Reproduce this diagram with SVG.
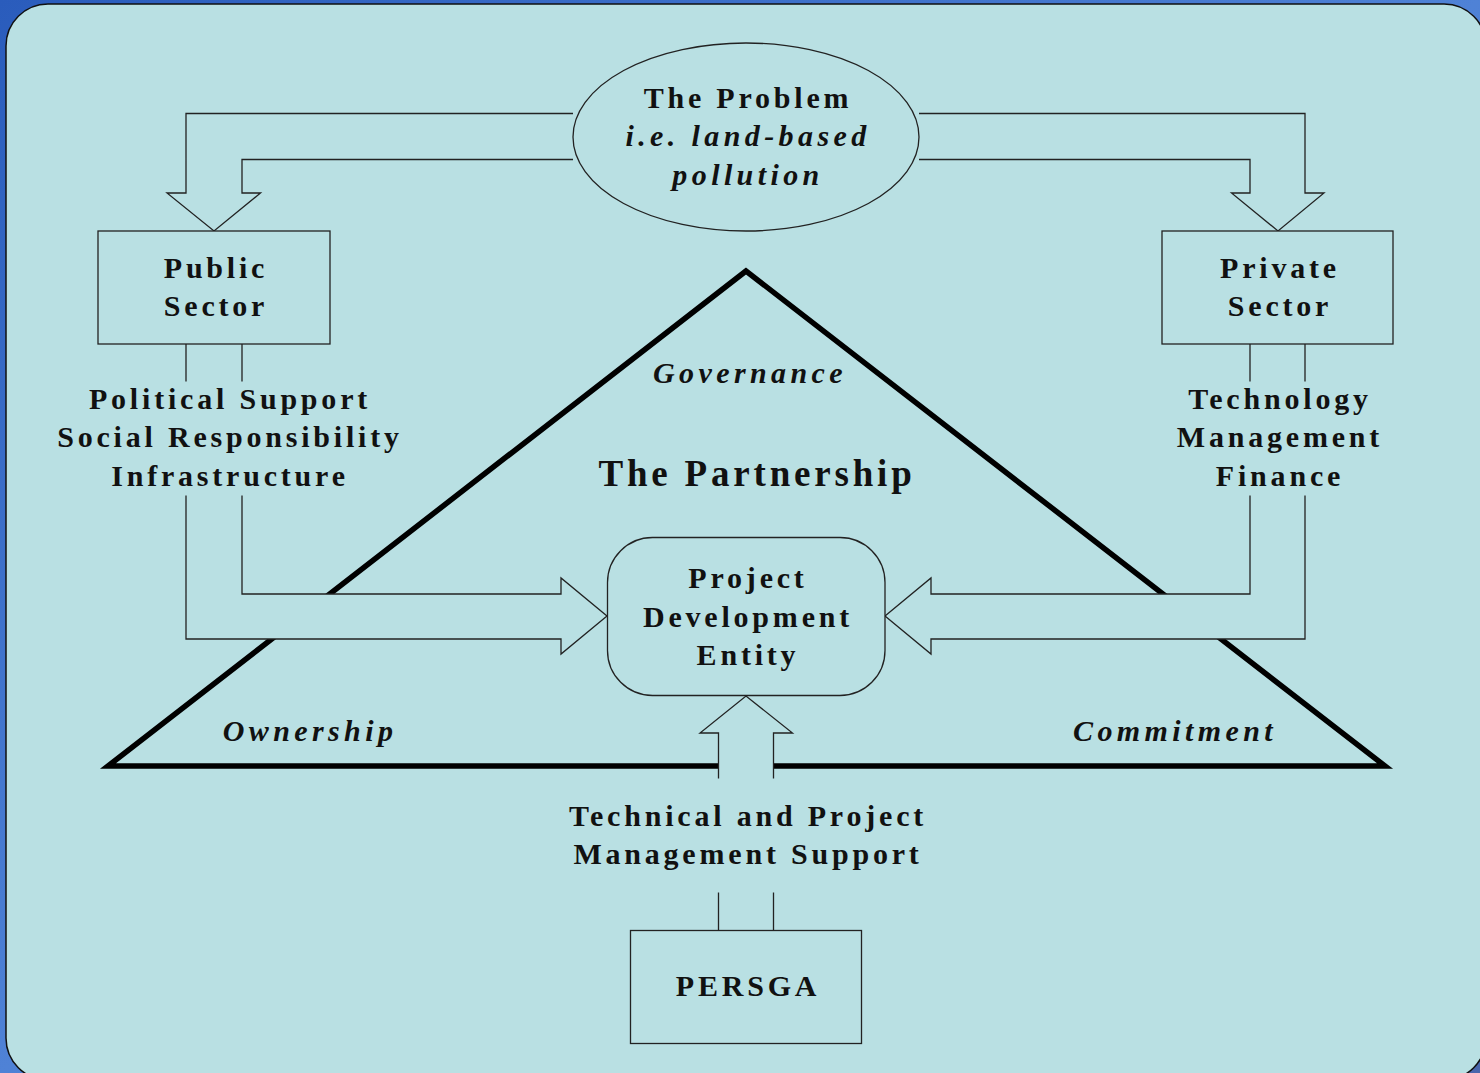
<svg xmlns="http://www.w3.org/2000/svg" width="1480" height="1073" viewBox="0 0 1480 1073">
  <defs>
    <linearGradient id="frameBlue" x1="0" y1="0" x2="1" y2="1">
      <stop offset="0" stop-color="#2a5cbc"/>
      <stop offset="0.5" stop-color="#4f82d6"/>
      <stop offset="1" stop-color="#4a66ac"/>
    </linearGradient>
    <style>
      .panel { fill: #b9e0e3; stroke: #111; stroke-width: 1.5; }
      .shape { fill: #b9e0e3; stroke: #222; stroke-width: 1.3; }
      .arrow { fill: #b9e0e3; stroke: #222; stroke-width: 1.3; stroke-linejoin: miter; }
      .backer { fill: #b9e0e3; stroke: none; }
      .tri { fill: none; stroke: #000; stroke-width: 5.5; stroke-linejoin: miter; stroke-miterlimit: 10; }
      text { font-family: "Liberation Serif", "Times New Roman", serif; font-weight: bold; fill: #111; text-anchor: middle; letter-spacing: 3.8px; }
      .lbl { font-size: 30px; }
      .ital { font-style: italic; letter-spacing: 4.4px; }
      .big { font-size: 37px; letter-spacing: 3.8px; }
    </style>
  </defs>

  <!-- frame and panel -->
  <rect x="0" y="0" width="1480" height="1073" fill="url(#frameBlue)"/>
  <rect class="panel" x="6" y="4" width="1480" height="1076" rx="42" ry="42"/>

  <!-- partnership triangle -->
  <g id="partnership">
    <polygon class="tri" points="746,271 108,766 1385,766"/>
    <text class="big" x="757" y="486">The Partnership</text>
    <text class="lbl ital" x="750" y="383">Governance</text>
    <text class="lbl ital" x="310" y="741">Ownership</text>
    <text class="lbl ital" x="1175" y="741">Commitment</text>
  </g>

  <!-- block arrows -->
  <g id="connectors">
    <path class="arrow" d="M573,113.5 H186 V193 H167 L214,231 L260.5,193 H242 V159.5 H573"/>
    <path class="arrow" d="M919,113.5 H1305 V193 H1324 L1278,231 L1231.5,193 H1250 V159.5 H919"/>
    <path class="arrow" d="M186,344 V639 H561 V654 L607,616 L561,578 V594 H242 V344"/>
    <path class="arrow" d="M1305,344 V639 H931 V654 L885,616 L931,578 V594 H1250 V344"/>
    <path class="arrow" d="M718.5,930 V733 H700 L746,696 L792.5,733 H773.5 V930"/>
    <!-- label backings that break the arrow shafts -->
    <rect class="backer" x="180" y="381.5" width="68" height="114"/>
    <rect class="backer" x="1244" y="381.5" width="68" height="114"/>
    <rect class="backer" x="712" y="778.5" width="68" height="114"/>
  </g>

  <!-- arrow labels -->
  <g id="public-contributions">
    <text class="lbl" x="230" y="409">Political Support</text>
    <text class="lbl" x="230" y="447">Social Responsibility</text>
    <text class="lbl" x="230" y="486">Infrastructure</text>
  </g>
  <g id="private-contributions">
    <text class="lbl" x="1280" y="409">Technology</text>
    <text class="lbl" x="1280" y="447">Management</text>
    <text class="lbl" x="1280" y="486">Finance</text>
  </g>
  <g id="persga-contributions">
    <text class="lbl" x="748" y="826">Technical and Project</text>
    <text class="lbl" x="748" y="864">Management Support</text>
  </g>

  <!-- nodes -->
  <g id="problem">
    <ellipse class="shape" cx="746" cy="137" rx="173" ry="94"/>
    <text class="lbl" x="748" y="108">The Problem</text>
    <text class="lbl ital" x="748" y="146">i.e. land-based</text>
    <text class="lbl ital" x="748" y="185">pollution</text>
  </g>
  <g id="public-sector">
    <rect class="shape" x="98" y="231" width="232" height="113"/>
    <text class="lbl" x="216" y="278">Public</text>
    <text class="lbl" x="216" y="316">Sector</text>
  </g>
  <g id="private-sector">
    <rect class="shape" x="1162" y="231" width="231" height="113"/>
    <text class="lbl" x="1280" y="278">Private</text>
    <text class="lbl" x="1280" y="316">Sector</text>
  </g>
  <g id="project-entity">
    <rect class="shape" x="607.5" y="537.5" width="277.5" height="158" rx="45" ry="45"/>
    <text class="lbl" x="748" y="588">Project</text>
    <text class="lbl" x="748" y="627">Development</text>
    <text class="lbl" x="748" y="665">Entity</text>
  </g>
  <g id="persga">
    <rect class="shape" x="630.5" y="930.5" width="231" height="113"/>
    <text class="lbl" x="748" y="996">PERSGA</text>
  </g>
</svg>
